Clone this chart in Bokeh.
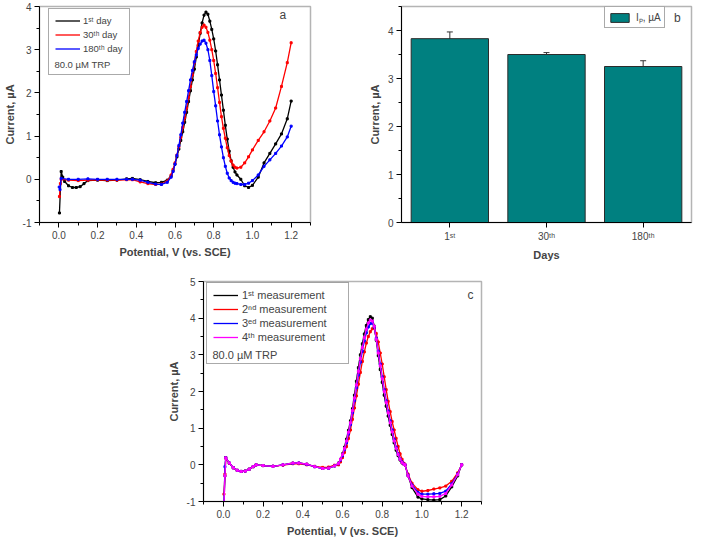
from bokeh.plotting import figure
from bokeh.layouts import column, row
from bokeh.models import (ColumnDataSource, FixedTicker, PrintfTickFormatter, Legend,
                          LegendItem, Label, Whisker, TeeHead, FactorRange)
from bokeh.embed import file_html
from bokeh.resources import INLINE

FONT = "Liberation Sans"

# ---- panel a: DPV of 80.0 uM TRP after 1, 30 and 180 days ----
a_x_day1 = [0.003, 0.012, 0.02, 0.03, 0.05, 0.07, 0.09, 0.11, 0.13, 0.15,
            0.20, 0.25, 0.30, 0.35, 0.38, 0.42, 0.46, 0.50, 0.53, 0.56,
            0.58, 0.59, 0.60, 0.61, 0.62, 0.63, 0.64, 0.65, 0.66, 0.67,
            0.68, 0.69, 0.70, 0.71, 0.72, 0.73, 0.74, 0.75, 0.76, 0.77,
            0.78, 0.79, 0.80, 0.81, 0.82, 0.83, 0.84, 0.85, 0.86, 0.87,
            0.88, 0.89, 0.90, 0.91, 0.92,
            0.94, 0.96, 0.98, 1.00, 1.03, 1.06, 1.09, 1.12, 1.15, 1.18, 1.20]
a_y_day1 = [-0.78, 0.18, 0.05, -0.05, -0.15, -0.19, -0.19, -0.17, -0.10, -0.03,
            -0.02, -0.03, -0.02, 0.01, 0.02, -0.01, -0.05, -0.08, -0.07, -0.02,
            0.08, 0.20, 0.35, 0.52, 0.70, 0.90, 1.10, 1.32, 1.55, 1.80,
            2.05, 2.30, 2.55, 2.83, 3.10, 3.38, 3.62, 3.80, 3.87, 3.82,
            3.66, 3.47, 3.25, 2.97, 2.65, 2.30, 1.95, 1.60, 1.25, 0.93,
            0.65, 0.43, 0.28, 0.17, 0.10,
            0.00, -0.15, -0.19, -0.14, 0.05, 0.38, 0.60, 0.82, 1.05, 1.40, 1.81]

a_x_day30 = [0.003, 0.008, 0.012, 0.05, 0.10, 0.15, 0.20, 0.25, 0.30, 0.35,
             0.38, 0.42, 0.46, 0.50, 0.53, 0.56,
             0.58, 0.59, 0.60, 0.61, 0.62, 0.63, 0.64, 0.65, 0.66, 0.67,
             0.68, 0.69, 0.70, 0.71, 0.72, 0.73, 0.74, 0.75, 0.76, 0.77,
             0.78, 0.79, 0.80, 0.81, 0.82, 0.83, 0.84, 0.85, 0.86, 0.87,
             0.88, 0.89, 0.90, 0.91, 0.92,
             0.94, 0.96, 0.98, 1.00, 1.03, 1.06, 1.09, 1.12, 1.15, 1.18, 1.20]
a_y_day30 = [-0.40, -0.10, 0.00, -0.02, -0.03, -0.02, -0.01, -0.02, -0.02, -0.01,
             -0.01, -0.06, -0.10, -0.12, -0.11, -0.04,
             0.10, 0.23, 0.38, 0.56, 0.75, 0.97, 1.20, 1.42, 1.65, 1.90,
             2.15, 2.42, 2.70, 2.96, 3.20, 3.40, 3.52, 3.57, 3.52, 3.40,
             3.22, 3.00, 2.75, 2.45, 2.12, 1.78, 1.45, 1.18, 0.95, 0.73,
             0.55, 0.42, 0.33, 0.28, 0.26,
             0.28, 0.38, 0.52, 0.68, 0.90, 1.10, 1.35, 1.65, 2.15, 2.70, 3.16]

a_x_day180 = [0.002, 0.006, 0.012, 0.05, 0.10, 0.15, 0.20, 0.25, 0.30, 0.35,
              0.38, 0.42, 0.46, 0.50, 0.53, 0.56,
              0.58, 0.59, 0.60, 0.61, 0.62, 0.63, 0.64, 0.65, 0.66, 0.67,
              0.68, 0.69, 0.70, 0.71, 0.72, 0.73, 0.74, 0.75, 0.76, 0.77,
              0.78, 0.79, 0.80, 0.81, 0.82, 0.83, 0.84, 0.85, 0.86, 0.87,
              0.88, 0.89, 0.90, 0.91, 0.92,
              0.94, 0.96, 0.98, 1.00, 1.03, 1.06, 1.09, 1.12, 1.15, 1.18, 1.20]
a_y_day180 = [-0.18, -0.24, 0.02, 0.00, 0.00, 0.01, 0.00, 0.00, 0.00, 0.00,
              0.00, -0.02, -0.07, -0.11, -0.12, -0.07,
              0.05, 0.18, 0.35, 0.55, 0.78, 1.03, 1.30, 1.55, 1.80, 2.05,
              2.30, 2.52, 2.72, 2.88, 3.03, 3.13, 3.20, 3.22, 3.15, 3.00,
              2.75, 2.40, 2.03, 1.70, 1.35, 1.03, 0.75, 0.50, 0.30, 0.14,
              0.03, -0.03, -0.07, -0.09, -0.10,
              -0.12, -0.12, -0.09, -0.03, 0.10, 0.30, 0.45, 0.60, 0.77, 0.98, 1.23]

# ---- panel b: peak current vs storage time ----
days = ["1\u02e2\u1d57", "30\u1d57\u02b0", "180\u1d57\u02b0"]
ip_values = [3.83, 3.50, 3.25]
ip_errors = [0.14, 0.04, 0.12]

# ---- panel c: four repeated measurements ----
c_potential = [0.003, 0.008, 0.012, 0.03, 0.05, 0.07, 0.09, 0.11, 0.13, 0.15,
               0.165, 0.20, 0.25, 0.30, 0.35, 0.38, 0.42, 0.46, 0.50, 0.53, 0.56,
               0.58, 0.59, 0.60, 0.61, 0.62, 0.63, 0.64, 0.65, 0.66, 0.67,
               0.68, 0.69, 0.70, 0.71, 0.72, 0.73, 0.74, 0.75, 0.76, 0.77,
               0.78, 0.79, 0.80, 0.81, 0.82, 0.83, 0.84, 0.85, 0.86, 0.87,
               0.88, 0.89, 0.90, 0.91,
               0.915, 0.93, 0.95, 0.98, 1.00, 1.03, 1.06, 1.09, 1.12, 1.15, 1.18, 1.20]
c_meas1 = [-1.10, -0.30, 0.20, 0.05, -0.08, -0.15, -0.18, -0.17, -0.12, -0.05,
           0.00, -0.02, -0.04, 0.00, 0.05, 0.05, 0.02, -0.05, -0.10, -0.09, -0.03,
           0.05, 0.15, 0.30, 0.48, 0.70, 0.94, 1.20, 1.53, 1.90, 2.28,
           2.65, 3.00, 3.30, 3.57, 3.80, 3.96, 4.04, 4.00, 3.78, 3.40,
           2.98, 2.60, 2.25, 1.90, 1.60, 1.33, 1.08, 0.83, 0.60, 0.40,
           0.25, 0.13, 0.05, 0.01,
           0.00, -0.30, -0.62, -0.88, -0.93, -0.95, -0.96, -0.95, -0.85, -0.60, -0.30, 0.00]
c_meas2 = [-0.80, -0.25, 0.18, 0.04, -0.08, -0.15, -0.18, -0.17, -0.12, -0.05,
           0.00, -0.02, -0.04, -0.01, 0.03, 0.03, 0.00, -0.04, -0.07, -0.06, -0.01,
           0.00, 0.08, 0.20, 0.34, 0.50, 0.72, 0.95, 1.24, 1.55, 1.88,
           2.20, 2.52, 2.82, 3.08, 3.32, 3.50, 3.63, 3.71, 3.73, 3.58,
           3.35, 3.05, 2.75, 2.40, 2.05, 1.73, 1.45, 1.18, 0.95, 0.72,
           0.50, 0.30, 0.15, 0.04,
           0.00, -0.25, -0.50, -0.68, -0.72, -0.70, -0.66, -0.63, -0.58, -0.45, -0.22, 0.00]
c_meas3 = [-1.10, -0.05, 0.19, 0.05, -0.08, -0.15, -0.18, -0.17, -0.12, -0.05,
           0.00, -0.02, -0.04, 0.00, 0.04, 0.05, 0.01, -0.05, -0.10, -0.09, -0.03,
           0.03, 0.13, 0.25, 0.42, 0.60, 0.84, 1.10, 1.42, 1.75, 2.10,
           2.45, 2.80, 3.10, 3.38, 3.60, 3.76, 3.85, 3.87, 3.75, 3.45,
           3.10, 2.75, 2.40, 2.05, 1.75, 1.47, 1.20, 0.95, 0.70, 0.48,
           0.30, 0.16, 0.08, 0.02,
           0.00, -0.28, -0.55, -0.75, -0.80, -0.80, -0.79, -0.78, -0.72, -0.52, -0.25, 0.00]
c_meas4 = [-1.10, -0.30, 0.19, 0.05, -0.08, -0.15, -0.18, -0.17, -0.12, -0.05,
           0.00, -0.02, -0.04, 0.00, 0.05, 0.05, 0.02, -0.05, -0.10, -0.09, -0.03,
           0.04, 0.15, 0.28, 0.45, 0.65, 0.89, 1.15, 1.48, 1.82, 2.18,
           2.55, 2.90, 3.20, 3.47, 3.70, 3.87, 3.95, 3.92, 3.78, 3.42,
           3.05, 2.70, 2.35, 2.00, 1.70, 1.42, 1.15, 0.90, 0.65, 0.45,
           0.28, 0.15, 0.06, 0.01,
           0.00, -0.30, -0.58, -0.80, -0.86, -0.87, -0.87, -0.86, -0.78, -0.55, -0.27, 0.00]

x_major = [0.0, 0.2, 0.4, 0.6, 0.8, 1.0, 1.2]
x_minor = [-0.1, 0.1, 0.3, 0.5, 0.7, 0.9, 1.1, 1.3]


def style(p):
    p.grid.visible = False
    p.outline_line_color = "#b4b4b4"
    p.outline_line_width = 1.5
    for ax in p.axis:
        ax.axis_line_color = "black"
        ax.major_tick_in = 0
        ax.major_tick_out = 5
        ax.minor_tick_in = 0
        ax.minor_tick_out = 3
        ax.major_label_text_font = FONT
        ax.major_label_text_font_size = "10px"
        ax.major_label_standoff = 3
        ax.axis_label_text_font = FONT
        ax.axis_label_text_font_size = "11px"
        ax.axis_label_text_font_style = "bold"
        ax.axis_label_standoff = 4


def dpv_axes(p, y_major):
    p.xaxis.ticker = FixedTicker(ticks=x_major, minor_ticks=x_minor)
    p.xaxis.formatter = PrintfTickFormatter(format="%.1f")
    p.yaxis.ticker = FixedTicker(ticks=y_major,
                                 minor_ticks=[v + 0.5 for v in y_major])
    p.yaxis.formatter = PrintfTickFormatter(format="%d")
    p.xaxis.axis_label = "Potential, V (vs. SCE)"
    p.yaxis.axis_label = "Current, \u00b5A"


def curve(p, x, y, color):
    # line plus small markers on every point, like the original trace
    r = p.line(x, y, line_color=color, line_width=1.3)
    p.scatter(x, y, marker="square", size=2.0, color=color)
    return r


def note(p, x, y, text, size):
    p.add_layout(Label(x=x, y=y, text=text, text_font=FONT, text_font_size=size,
                       text_baseline="middle", level="overlay"))


# panel a
pa = figure(width=316, height=263, x_range=(-0.1, 1.3), y_range=(-1, 4),
            min_border_left=36, min_border_right=6, min_border_top=6,
            min_border_bottom=40, output_backend="svg", toolbar_location=None)
style(pa)
dpv_axes(pa, [-1, 0, 1, 2, 3, 4])
ra1 = curve(pa, a_x_day1, a_y_day1, "black")
ra2 = curve(pa, a_x_day30, a_y_day30, "red")
ra3 = curve(pa, a_x_day180, a_y_day180, "blue")
blank_a = pa.line([], [], line_alpha=0)
leg_a = Legend(items=[LegendItem(label="1\u02e2\u1d57 day", renderers=[ra1]),
                      LegendItem(label="30\u1d57\u02b0 day", renderers=[ra2]),
                      LegendItem(label="180\u1d57\u02b0 day", renderers=[ra3]),
                      LegendItem(label=" ", renderers=[blank_a])],
               location=(9, 147), padding=6, spacing=3, glyph_width=25,
               glyph_height=11, label_height=11, label_standoff=3,
               label_text_font=FONT, label_text_font_size="9.5px",
               border_line_color="#555555", border_line_width=1,
               background_fill_alpha=0)
pa.add_layout(leg_a)
note(pa, -0.023, 2.65, "80.0 \u00b5M TRP", "9.5px")
note(pa, 1.14, 3.8, "a", "12px")

# panel b
src_b = ColumnDataSource(dict(days=days, ip=ip_values,
                              upper=[v + e for v, e in zip(ip_values, ip_errors)],
                              lower=[v - e for v, e in zip(ip_values, ip_errors)]))
pb = figure(width=377, height=263, x_range=FactorRange(*days), y_range=(0, 4.5),
            min_border_left=85, min_border_right=2, min_border_top=6,
            min_border_bottom=40, output_backend="svg", toolbar_location=None)
style(pb)
bars = pb.vbar(x="days", top="ip", width=0.8, source=src_b, fill_color="#008080",
               line_color="#2b2b2b", line_width=1)
pb.add_layout(Whisker(base="days", upper="upper", lower="lower", source=src_b,
                      line_color="#333333", line_width=1,
                      upper_head=TeeHead(size=6, line_color="#333333"),
                      lower_head=TeeHead(size=6, line_color="#333333")))
pb.yaxis.ticker = FixedTicker(ticks=[0, 1, 2, 3, 4], minor_ticks=[0.5, 1.5, 2.5, 3.5, 4.5])
pb.xaxis.axis_label = "Days"
pb.yaxis.axis_label = "Current, \u00b5A"
pb.xaxis.minor_tick_out = 0
leg_b = Legend(items=[LegendItem(label="I\u209a, \u00b5A", renderers=[bars])],
               location=(203, 194), padding=3, glyph_width=23, glyph_height=11,
               label_standoff=5, label_text_font=FONT, label_text_font_size="10px",
               border_line_color="#555555", border_line_width=1,
               background_fill_alpha=1)
pb.add_layout(leg_b)
note(pb, 2.82, 4.27, "b", "12px")

# panel c
pc = figure(width=493, height=276, x_range=(-0.1, 1.3), y_range=(-1, 5),
            min_border_left=203, min_border_right=12, min_border_top=18,
            min_border_bottom=38, output_backend="svg", toolbar_location=None)
style(pc)
dpv_axes(pc, [-1, 0, 1, 2, 3, 4, 5])
rc1 = curve(pc, c_potential, c_meas1, "black")
rc2 = curve(pc, c_potential, c_meas2, "red")
rc3 = curve(pc, c_potential, c_meas3, "blue")
rc4 = curve(pc, c_potential, c_meas4, "magenta")
blank_c = pc.line([], [], line_alpha=0)
leg_c = Legend(items=[LegendItem(label="1\u02e2\u1d57 measurement", renderers=[rc1]),
                      LegendItem(label="2\u207f\u1d48 measurement", renderers=[rc2]),
                      LegendItem(label="3\u1d49\u1d48 measurement", renderers=[rc3]),
                      LegendItem(label="4\u1d57\u02b0 measurement", renderers=[rc4]),
                      LegendItem(label=" ", renderers=[blank_c])],
               location=(3, 137), padding=6, spacing=2, glyph_width=25,
               glyph_height=12, label_height=12, label_width=100, label_standoff=4,
               label_text_font=FONT, label_text_font_size="11px",
               border_line_color="#555555", border_line_width=1,
               background_fill_alpha=0)
pc.add_layout(leg_c)
note(pc, -0.055, 3.0, "80.0 \u00b5M TRP", "11px")
note(pc, 1.23, 4.62, "c", "12px")

layout = column(row(pa, pb), pc)
open("out.html", "w").write(file_html(layout, INLINE))
